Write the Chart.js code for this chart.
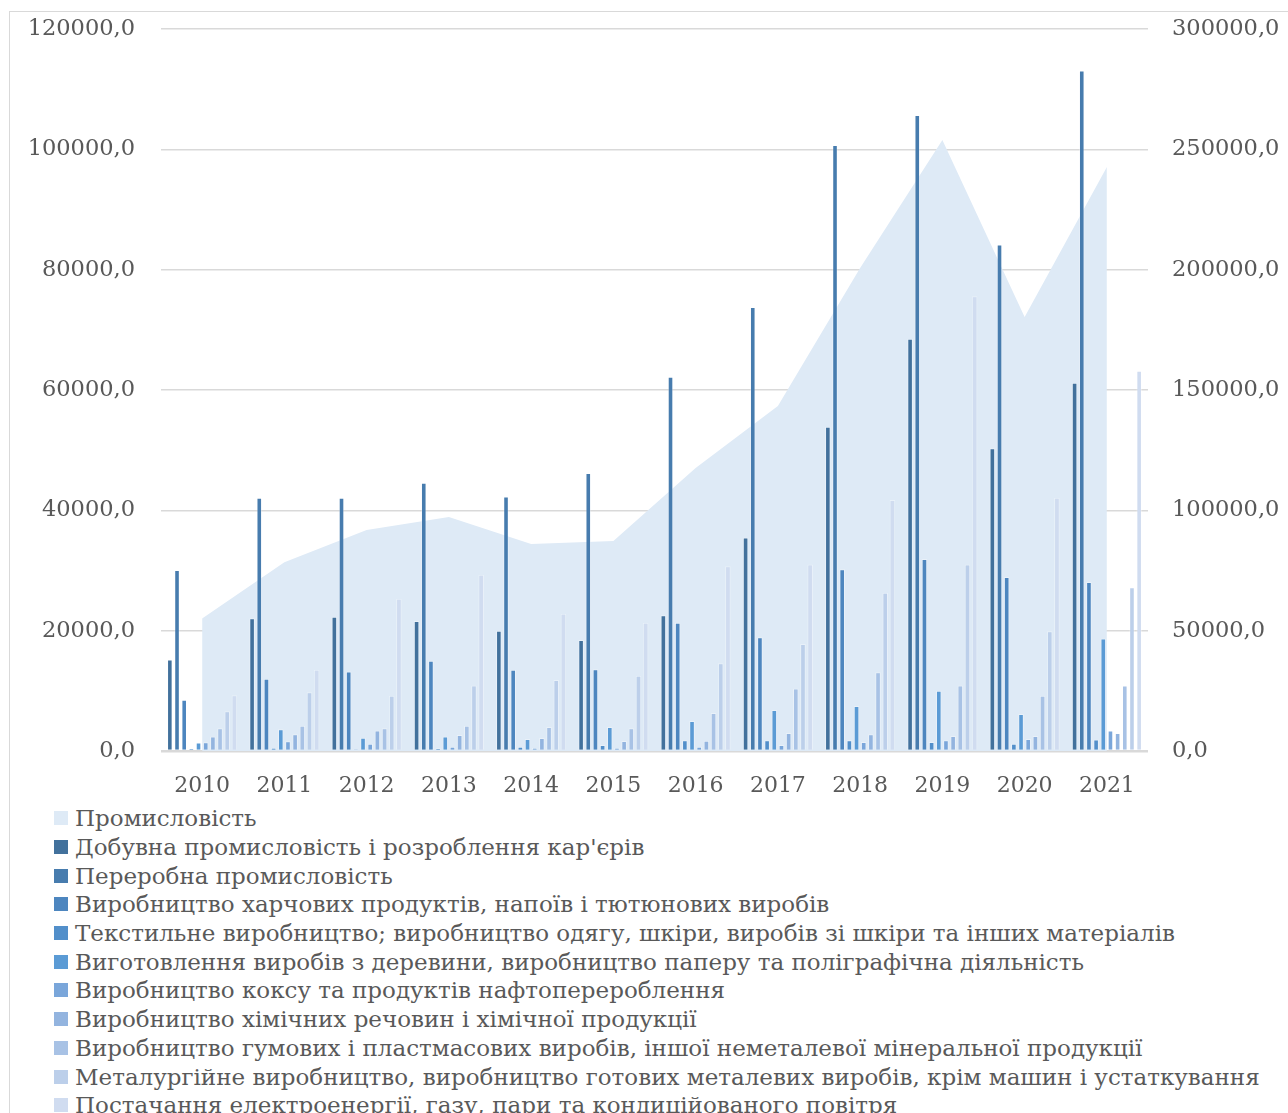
<!DOCTYPE html>
<html>
<head>
<meta charset="utf-8">
<script src="https://cdn.jsdelivr.net/npm/chart.js@4/dist/chart.umd.min.js"></script>
<style>
  html, body { margin: 0; padding: 0; background: #fff; overflow: hidden; }
  #frame { position: absolute; left: 9px; top: 11px; width: 1400px; height: 1300px;
           border-left: 1px solid #d9d9d9; border-top: 1px solid #d9d9d9; }
  #c { position: absolute; left: 10px; top: 12px; }
  #legend { position: absolute; left: 54px; top: 804px; font-family: 'DejaVu Serif', serif;
            font-size: 23px; color: #595959; }
  .row { height: 28.7px; display: flex; align-items: center; white-space: nowrap; }
  .sq { width: 14px; height: 14px; margin-right: 7px; flex: none; }
</style>
</head>
<body>
<div id="frame"></div>
<canvas id="c" width="1278" height="789"></canvas>
<div id="legend"></div>
<script>
const years = ['2010','2011','2012','2013','2014','2015','2016','2017','2018','2019','2020','2021'];
const seriesNames = [
  'Промисловість',
  'Добувна промисловість і розроблення кар\'єрів',
  'Переробна промисловість',
  'Виробництво харчових продуктів, напоїв і тютюнових виробів',
  'Текстильне виробництво; виробництво одягу, шкіри, виробів зі шкіри та інших матеріалів',
  'Виготовлення виробів з деревини, виробництво паперу та поліграфічна діяльність',
  'Виробництво коксу та продуктів нафтоперероблення',
  'Виробництво хімічних речовин і хімічної продукції',
  'Виробництво гумових і пластмасових виробів, іншої неметалевої мінеральної продукції',
  'Металургійне виробництво, виробництво готових металевих виробів, крім машин і устаткування',
  'Постачання електроенергії, газу, пари та кондиційованого повітря'
];
const industry      = [55100, 78400, 91800, 97200, 86000, 87300, 117600, 143400, 200700, 253900, 180300, 242700];
const mining        = [15200, 22050, 22300, 21600, 20000, 18450, 22550, 35500, 53900, 68500, 50300, 61200];
const manufacturing = [30100, 42100, 42100, 44600, 42300, 46200, 62200, 73800, 100700, 105700, 84200, 113100];
const food          = [8500, 12000, 13200, 15000, 13500, 13600, 21300, 18900, 30200, 31900, 28900, 28100];
const textile       = [450, 500, 300, 450, 700, 1000, 1800, 1800, 1800, 1500, 1200, 1900];
const wood          = [1400, 3600, 2200, 2400, 2000, 4000, 5000, 6800, 7500, 10000, 6150, 18700];
const coke          = [1450, 1600, 1200, 700, 500, 550, 700, 1000, 1500, 1800, 2000, 3400];
const chemicals     = [2400, 2800, 3400, 2650, 2150, 1650, 1700, 3000, 2800, 2500, 2500, 3000];
const rubber        = [3800, 4200, 3800, 4200, 4000, 3800, 6300, 10400, 13100, 10900, 9200, 10900];
const metallurgy    = [6600, 9750, 9200, 10900, 11800, 12500, 14600, 17800, 26300, 31000, 19900, 27200];
const energy        = [9250, 13500, 25300, 29300, 22800, 21300, 30700, 31000, 41700, 75600, 42100, 63200];
const leftTicks  = [0, 20000, 40000, 60000, 80000, 100000, 120000];
const rightTicks = [0, 50000, 100000, 150000, 200000, 250000, 300000];

const areaColor = '#deeaf6';
const barColors = ['#42719c','#477cae','#4d86bf','#528fca','#5b9bd5','#7aa6da','#93b4df','#a8c2e5','#bccfea','#d0dcf0'];
const barSeries = [mining, manufacturing, food, textile, wood, coke, chemicals, rubber, metallurgy, energy];

const fmt = v => Number(v).toFixed(1).replace('.', ',');
const FONT = "'DejaVu Serif', serif";

const datasets = [{
  type: 'line', label: seriesNames[0], data: industry, yAxisID: 'y1',
  backgroundColor: areaColor, borderColor: areaColor, borderWidth: 0,
  pointRadius: 0, fill: 'origin', tension: 0, order: 5
}];
barSeries.forEach((d, i) => datasets.push({
  type: 'bar', label: seriesNames[i + 1], data: d, yAxisID: 'y',
  backgroundColor: barColors[i], borderColor: 'rgba(255,255,255,0.35)', borderWidth: 1,
  categoryPercentage: 0.872, barPercentage: 0.78, order: 1
}));

const chart = new Chart(document.getElementById('c'), {
  data: { labels: years, datasets },
  options: {
    responsive: false, animation: false, devicePixelRatio: 1,
    layout: { padding: { top: 17, left: 0, right: 0, bottom: 0 } },
    plugins: { legend: { display: false }, tooltip: { enabled: false } },
    scales: {
      x: {
        offset: true,
        grid: { display: false, drawTicks: false },
        border: { display: false },
        ticks: { color: '#595959', font: { family: FONT, size: 22 }, padding: 22, maxRotation: 0 },
        afterFit: s => { s.height = 50; }
      },
      y: {
        position: 'left', min: 0, max: 120000,
        afterBuildTicks: s => { s.ticks = leftTicks.map(v => ({ value: v })); },
        grid: { color: '#d9d9d9', drawTicks: false, lineWidth: c => c.tick && c.tick.value === 0 ? 2.5 : 1.4 },
        border: { display: false },
        ticks: { color: '#595959', font: { family: FONT, size: 22.5 }, padding: 26, callback: v => fmt(v) },
        afterFit: s => { s.width = 151; s.paddingTop = 0; s.paddingBottom = 0; }
      },
      y1: {
        position: 'right', min: 0, max: 300000,
        afterBuildTicks: s => { s.ticks = rightTicks.map(v => ({ value: v })); },
        grid: { display: false, drawTicks: false },
        border: { display: false },
        ticks: { color: '#595959', font: { family: FONT, size: 22.5 }, padding: 24, callback: v => fmt(v) },
        afterFit: s => { s.width = 140; s.paddingTop = 0; s.paddingBottom = 0; }
      }
    }
  }
});

const leg = document.getElementById('legend');
chart.data.datasets.forEach(ds => {
  const row = document.createElement('div'); row.className = 'row';
  const sq = document.createElement('span'); sq.className = 'sq'; sq.style.background = ds.backgroundColor;
  const tx = document.createElement('span'); tx.textContent = ds.label;
  row.appendChild(sq); row.appendChild(tx); leg.appendChild(row);
});
</script>
</body>
</html>
